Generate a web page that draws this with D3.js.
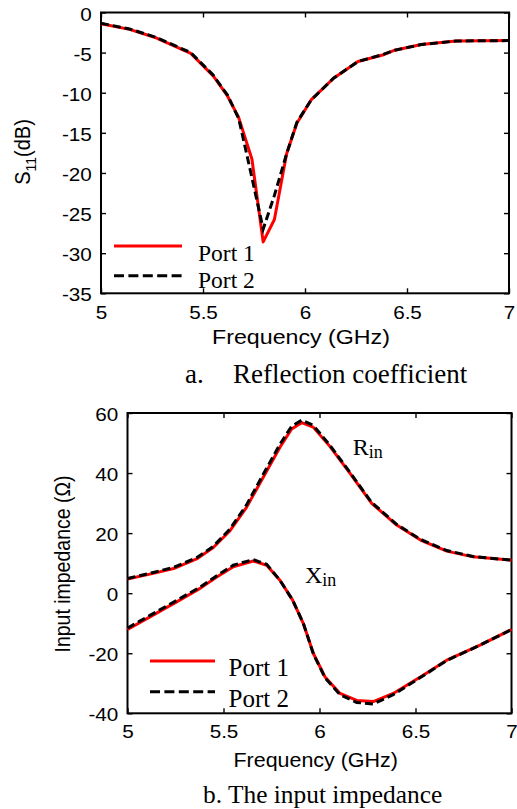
<!DOCTYPE html>
<html>
<head>
<meta charset="utf-8">
<script src="https://cdn.jsdelivr.net/npm/d3@7"></script>
<style>
  html, body { margin: 0; padding: 0; background: #fff; }
  svg { display: block; }
</style>
</head>
<body>
<svg id="fig" width="517" height="809"></svg>
<script>
// ---- Data: reflection coefficient S11 (dB) vs frequency (GHz) ----
const s11Freq  = [5.00, 5.14, 5.27, 5.44, 5.55, 5.62, 5.675, 5.74, 5.795, 5.85, 5.91, 5.96, 6.03, 6.14, 6.26, 6.38, 6.44, 6.57, 6.74, 7.00];
const s11Port1 = [-1.40, -2.10, -3.15, -5.10, -7.90, -10.4, -13.1, -18.3, -28.6, -25.8, -17.6, -13.8, -10.9, -8.2, -6.1, -5.3, -4.7, -4.0, -3.55, -3.5];
const s11Port2 = [-1.35, -2.05, -3.10, -5.00, -7.80, -10.3, -13.2, -20.6, -27.0, -22.8, -17.6, -13.7, -10.9, -8.2, -6.1, -5.25, -4.7, -4.0, -3.55, -3.5];

// ---- Data: input impedance (ohm) vs frequency (GHz) ----
const rinFreq  = [5.00, 5.134, 5.24, 5.36, 5.447, 5.534, 5.62, 5.707, 5.794, 5.855, 5.907, 5.967, 6.055, 6.159, 6.272, 6.402, 6.526, 6.663, 6.80, 7.00];
const rinPort1 = [4.7, 6.6, 8.2, 11.4, 15.2, 20.8, 28.6, 38.6, 48.6, 54.7, 56.8, 55.3, 48.8, 39.9, 29.9, 22.7, 17.7, 14.0, 12.1, 11.0];
const rinPort2 = [4.9, 6.9, 8.6, 11.8, 15.6, 21.4, 29.4, 39.6, 49.6, 55.6, 57.6, 55.9, 49.2, 40.2, 30.2, 22.9, 17.9, 14.2, 12.2, 11.0];

const xinFreq  = [5.00, 5.117, 5.256, 5.378, 5.465, 5.551, 5.655, 5.725, 5.794, 5.86, 5.916, 5.968, 6.029, 6.107, 6.194, 6.28, 6.384, 6.54, 6.663, 6.836, 7.00];
const xinPort1 = [-12.1, -7.9, -2.9, 1.6, 5.4, 8.8, 10.7, 9.3, 4.3, -2.3, -10.1, -20.1, -27.9, -33.4, -35.7, -36.1, -33.4, -27.3, -22.3, -17.3, -12.1];
const xinPort2 = [-11.6, -7.4, -2.4, 2.0, 5.8, 9.3, 11.2, 9.6, 4.3, -2.3, -10.1, -20.2, -28.2, -33.8, -36.4, -36.9, -33.8, -27.5, -22.4, -17.3, -12.1];

// ---- Tick values and labels ----
const freqTicks      = [5, 5.5, 6, 6.5, 7];
const freqTickLabels = ["5", "5.5", "6", "6.5", "7"];
const s11Ticks       = [0, -5, -10, -15, -20, -25, -30, -35];
const s11TickLabels  = ["0", "-5", "-10", "-15", "-20", "-25", "-30", "-35"];
const zTicks         = [60, 40, 20, 0, -20, -40];
const zTickLabels    = ["60", "40", "20", "0", "-20", "-40"];
const seriesNames    = ["Port 1", "Port 2"];

// ---- Styling ----
const SANS  = "'Liberation Sans', Arial, Helvetica, sans-serif";
const SERIF = "'Liberation Serif', 'Times New Roman', Times, serif";
const RED = "#ff0000";
const WIDEN = 1.15;   // sans labels are set slightly wide

const svg = d3.select("#fig");

function drawPanel(p) {
  const x = d3.scaleLinear().domain([5, 7]).range([p.left, p.right]);
  const y = d3.scaleLinear().domain(p.yDomain).range([p.bottom, p.top]);
  const g = svg.append("g");

  const styleTicks = sel => {
    sel.select(".domain").remove();
    sel.selectAll(".tick line").attr("stroke", "#000").attr("stroke-width", 1.4);
  };

  // bottom axis with labels
  const bx = g.append("g").attr("transform", `translate(0,${p.bottom})`)
    .call(d3.axisBottom(x).tickValues(freqTicks).tickSizeInner(-5).tickSizeOuter(0)
      .tickPadding(p.xPad).tickFormat((d, i) => freqTickLabels[i]));
  styleTicks(bx);
  bx.selectAll("text").attr("font-family", SANS).attr("font-size", 18).attr("fill", "#000")
    .attr("transform", `scale(${WIDEN},1)`);

  // top mirror ticks
  const tx = g.append("g").attr("transform", `translate(0,${p.top})`)
    .call(d3.axisTop(x).tickValues(freqTicks).tickSizeInner(-5).tickSizeOuter(0).tickFormat(""));
  styleTicks(tx);

  // left axis with labels
  const ly = g.append("g").attr("transform", `translate(${p.left},0)`)
    .call(d3.axisLeft(y).tickValues(p.yTicks).tickSizeInner(-5).tickSizeOuter(0)
      .tickPadding(8).tickFormat((d, i) => p.yLabels[i]));
  styleTicks(ly);
  ly.selectAll("text").attr("font-family", SANS).attr("font-size", 18).attr("fill", "#000")
    .attr("dy", "0.42em").attr("transform", `scale(${WIDEN},1)`);

  // right mirror ticks
  const ry = g.append("g").attr("transform", `translate(${p.right},0)`)
    .call(d3.axisRight(y).tickValues(p.yTicks).tickSizeInner(-5).tickSizeOuter(0).tickFormat(""));
  styleTicks(ry);

  // frame
  g.append("rect")
    .attr("x", p.left).attr("y", p.top)
    .attr("width", p.right - p.left).attr("height", p.bottom - p.top)
    .attr("fill", "none").attr("stroke", "#000").attr("stroke-width", 2);

  // x axis title
  g.append("text")
    .attr("transform", `translate(${p.xTitleX},${p.xTitleY}) scale(${p.xTitleWiden},1)`)
    .attr("text-anchor", "middle")
    .attr("font-family", SANS).attr("font-size", 19.5).attr("fill", "#000")
    .text("Frequency (GHz)");

  return { g, x, y };
}

function drawSeries(g, x, y, freq, v1, v2) {
  const line = d3.line().x((d, i) => x(freq[i])).y(d => y(d));
  g.append("path").datum(v1).attr("d", line)
    .attr("fill", "none").attr("stroke", RED).attr("stroke-width", 3)
    .attr("stroke-linejoin", "round");
  g.append("path").datum(v2).attr("d", line)
    .attr("fill", "none").attr("stroke", "#000").attr("stroke-width", 3)
    .attr("stroke-dasharray", "8,4");
}

function drawLegend(g, lg) {
  seriesNames.forEach((name, i) => {
    const ly = lg.lineY[i];
    g.append("line")
      .attr("x1", lg.x1).attr("x2", lg.x2).attr("y1", ly).attr("y2", ly)
      .attr("stroke", i === 0 ? RED : "#000").attr("stroke-width", 3)
      .attr("stroke-dasharray", i === 0 ? null : "10,4.4");
    g.append("text")
      .attr("x", lg.textX).attr("y", lg.textY[i])
      .attr("font-family", SERIF).attr("font-size", lg.size).attr("fill", "#000")
      .text(name);
  });
}

// ===== Panel a: reflection coefficient =====
const pa = drawPanel({
  left: 101, right: 509, top: 12.5, bottom: 293.3,
  yDomain: [-35, 0], yTicks: s11Ticks, yLabels: s11TickLabels,
  xPad: 12.7, xTitleX: 301, xTitleY: 344, xTitleWiden: 1.19
});
drawSeries(pa.g, pa.x, pa.y, s11Freq, s11Port1, s11Port2);
drawLegend(pa.g, { x1: 114, x2: 182, lineY: [246, 275.7], textX: 198, textY: [261, 288], size: 23.5 });

// y title: S11(dB)
const ya = svg.append("g").attr("transform", `translate(30,152) scale(1.1,1) rotate(-90)`);
const yat = ya.append("text").attr("text-anchor", "middle")
  .attr("font-family", SANS).attr("font-size", 20).attr("fill", "#000");
yat.append("tspan").text("S");
yat.append("tspan").attr("font-size", 14).attr("dy", 5).text("11");
yat.append("tspan").attr("dy", -5).text("(dB)");

// caption a
const capA = svg.append("text").attr("y", 383.3)
  .attr("font-family", SERIF).attr("font-size", 27).attr("fill", "#000");
capA.append("tspan").attr("x", 185).text("a.");
capA.append("tspan").attr("x", 233).text("Reflection coefficient");

// ===== Panel b: input impedance =====
const pb = drawPanel({
  left: 127.5, right: 511.5, top: 413, bottom: 713.3,
  yDomain: [-40, 60], yTicks: zTicks, yLabels: zTickLabels,
  xPad: 11.7, xTitleX: 315.7, xTitleY: 767.3, xTitleWiden: 1.1
});
drawSeries(pb.g, pb.x, pb.y, rinFreq, rinPort1, rinPort2);
drawSeries(pb.g, pb.x, pb.y, xinFreq, xinPort1, xinPort2);
drawLegend(pb.g, { x1: 150, x2: 215, lineY: [661, 691.7], textX: 228.5, textY: [676, 706.7], size: 25 });

// curve annotations R_in and X_in
function subLabel(xp, yp, main) {
  const t = svg.append("text").attr("x", xp).attr("y", yp)
    .attr("font-family", SERIF).attr("font-size", 24).attr("fill", "#000");
  t.append("tspan").text(main);
  t.append("tspan").attr("font-size", 18).attr("dy", 3).text("in");
}
subLabel(352.7, 455, "R");
subLabel(305, 583.3, "X");

// y title: Input impedance (Ω)
svg.append("g").attr("transform", `translate(70,564) scale(1.1,1) rotate(-90)`)
  .append("text").attr("text-anchor", "middle")
  .attr("font-family", SANS).attr("font-size", 19.5).attr("fill", "#000")
  .text("Input impedance (\u03A9)");

// caption b
svg.append("text").attr("x", 203).attr("y", 802.7)
  .attr("font-family", SERIF).attr("font-size", 25.4).attr("fill", "#000")
  .text("b. The input impedance");
</script>
</body>
</html>
